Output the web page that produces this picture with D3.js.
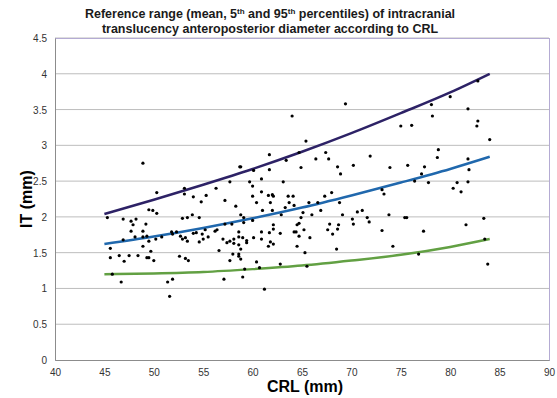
<!DOCTYPE html>
<html>
<head>
<meta charset="utf-8">
<script src="https://cdn.jsdelivr.net/npm/d3@7"></script>
<style>
  body { margin: 0; background: #fff; overflow: hidden; }
  svg { display: block; font-family: Arial, "Liberation Sans", sans-serif; }
</style>
</head>
<body>
<div id="chart"></div>
<script>
// Scatter: CRL (mm) and IT (mm) of each measured fetus
const crl = [48.9, 50.3, 53.1, 53.1, 54.0, 55.3, 56.3, 57.2, 54.8, 49.5, 49.9, 50.3, 45.3, 46.9, 47.7, 48.2, 47.9, 49.2, 47.7, 48.9,
  46.9, 48.1, 48.9, 49.3, 49.5, 50.2, 50.8, 48.9, 45.6, 45.6, 46.5, 47.5, 47.0, 48.4, 49.3, 49.5, 49.7, 50.0, 52.9, 53.4,
  53.9, 54.6, 51.8, 52.3, 51.9, 52.7, 52.9, 53.2, 53.4, 54.0, 54.3, 54.9, 55.2, 55.0, 54.6, 55.5, 56.2, 56.4, 57.0, 57.4,
  56.6, 52.6, 53.2, 53.5, 57.7, 45.8, 46.7, 51.4, 51.9, 51.6, 57.1, 69.4, 64.0, 65.4, 61.7, 64.7, 67.4, 71.9, 58.7, 58.8,
  60.1, 61.7, 63.4, 64.9, 66.4, 67.7, 68.6, 68.9, 70.2, 57.7, 59.7, 60.0, 60.9, 63.1, 60.9, 60.0, 61.6, 62.0, 62.1, 63.6,
  64.1, 67.3, 68.0, 61.8, 60.4, 58.3, 63.7, 64.2, 61.0, 62.0, 63.3, 65.7, 66.6, 66.9, 68.8, 62.9, 58.8, 59.1, 57.2, 57.9,
  59.1, 60.0, 65.1, 66.0, 69.1, 70.6, 71.1, 70.1, 71.6, 71.8, 64.9, 62.1, 64.7, 64.5, 67.8, 68.7, 70.2, 58.6, 60.9, 61.7,
  62.1, 62.8, 64.2, 64.4, 65.2, 67.6, 68.6, 68.1, 64.7, 65.8, 57.7, 58.1, 58.1, 58.6, 59.0, 59.4, 59.4, 60.1, 60.9, 61.8,
  61.6, 62.1, 64.5, 58.6, 58.8, 58.0, 58.6, 58.6, 58.8, 60.4, 60.7, 62.8, 65.3, 65.5, 68.5, 59.2, 59.0, 61.2, 82.8, 80.0,
  78.1, 78.2, 81.8, 82.8, 82.7, 75.0, 76.1, 84.0, 78.8, 78.7, 73.9, 75.7, 77.4, 77.1, 81.8, 81.9, 76.4, 77.8, 73.1, 73.3,
  80.3, 80.7, 81.1, 81.8, 73.8, 75.4, 75.6, 73.1, 77.3, 81.6, 83.4, 74.2, 83.5, 76.8, 83.8];
const it = [2.75, 2.34, 2.40, 2.32, 2.28, 2.30, 2.40, 2.23, 2.21, 2.10, 2.09, 2.05, 1.99, 1.97, 1.94, 1.97, 1.89, 1.90, 1.80, 1.80,
  1.68, 1.72, 1.72, 1.73, 1.66, 1.69, 1.72, 1.59, 1.56, 1.43, 1.46, 1.46, 1.38, 1.46, 1.43, 1.43, 1.52, 1.39, 1.98, 1.99,
  2.03, 1.99, 1.79, 1.79, 1.76, 1.73, 1.69, 1.71, 1.66, 1.77, 1.78, 1.76, 1.82, 1.69, 1.65, 1.72, 1.80, 1.82, 1.69, 1.64,
  1.53, 1.45, 1.42, 1.39, 1.39, 1.20, 1.09, 1.09, 1.13, 0.89, 1.13, 3.58, 3.41, 3.06, 2.87, 2.90, 2.90, 2.85, 2.70, 2.70,
  2.65, 2.66, 2.79, 2.69, 2.81, 2.81, 2.70, 2.60, 2.72, 2.49, 2.49, 2.43, 2.53, 2.49, 2.35, 2.29, 2.30, 2.31, 2.29, 2.29,
  2.29, 2.29, 2.34, 2.20, 2.20, 2.15, 2.20, 2.16, 2.09, 2.09, 2.13, 2.20, 2.20, 2.09, 2.20, 2.03, 2.03, 1.99, 1.90, 1.90,
  1.92, 1.95, 2.06, 2.03, 2.03, 2.07, 2.09, 1.97, 1.99, 1.93, 1.99, 1.89, 1.91, 1.89, 1.90, 1.89, 1.90, 1.79, 1.79, 1.78,
  1.83, 1.77, 1.79, 1.79, 1.82, 1.82, 1.83, 1.76, 1.73, 1.71, 1.66, 1.69, 1.63, 1.72, 1.71, 1.67, 1.64, 1.71, 1.69, 1.65,
  1.59, 1.62, 1.59, 1.61, 1.55, 1.48, 1.48, 1.45, 1.41, 1.37, 1.29, 1.34, 1.50, 1.31, 1.55, 1.27, 1.16, 0.99, 3.90, 3.68,
  3.57, 3.41, 3.51, 3.34, 3.27, 3.27, 3.28, 3.08, 2.94, 2.83, 2.69, 2.72, 2.70, 2.60, 2.81, 2.66, 2.50, 2.48, 2.38, 2.32,
  2.40, 2.48, 2.35, 2.49, 2.03, 1.99, 1.99, 1.81, 1.80, 1.89, 1.98, 1.59, 1.69, 1.48, 1.34];

// Reference curves read at these CRL values
const curveCrl = [45, 50, 55, 60, 65, 70, 75, 80, 84];
const p95 = [2.04, 2.24, 2.45, 2.67, 2.91, 3.17, 3.45, 3.74, 4.0];
const mean = [1.62, 1.725, 1.845, 1.98, 2.13, 2.30, 2.48, 2.67, 2.84];
const p5 = [1.20, 1.21, 1.23, 1.27, 1.32, 1.39, 1.47, 1.58, 1.69];

const xTicks = [40, 45, 50, 55, 60, 65, 70, 75, 80, 85, 90];
const yTicks = [0, 0.5, 1, 1.5, 2, 2.5, 3, 3.5, 4, 4.5];

const width = 557, height = 398;
const margin = { top: 38, right: 8, bottom: 38, left: 55 };
const innerWidth = width - margin.left - margin.right;
const innerHeight = height - margin.top - margin.bottom;

const svg = d3.select("#chart")
  .append("svg")
  .attr("width", width)
  .attr("height", height);

svg.append("rect").attr("width", width).attr("height", height).attr("fill", "#fff");

const x = d3.scaleLinear().domain([40, 90]).range([0, innerWidth]);
const y = d3.scaleLinear().domain([0, 4.5]).range([innerHeight, 0]);

const g = svg.append("g").attr("transform", `translate(${margin.left},${margin.top})`);

// gridlines
g.append("g")
  .selectAll("line")
  .data(yTicks.filter(d => d > 0))
  .join("line")
  .attr("x1", 0).attr("x2", innerWidth)
  .attr("y1", d => y(d)).attr("y2", d => y(d))
  .attr("stroke", "#bdbdbd")
  .attr("stroke-width", 1);

// plot border (top/right lavender)
g.append("rect")
  .attr("x", 0.5).attr("y", 0.5)
  .attr("width", innerWidth).attr("height", innerHeight)
  .attr("fill", "none")
  .attr("stroke", "#b4abd3")
  .attr("stroke-width", 1);

// axes
const xAxis = d3.axisBottom(x).tickValues(xTicks).tickSize(0).tickPadding(9);
const yAxis = d3.axisLeft(y).tickValues(yTicks).tickSize(0).tickPadding(8).tickFormat(d3.format("~g"));

g.append("g")
  .attr("class", "x-axis")
  .attr("transform", `translate(0,${innerHeight})`)
  .call(xAxis)
  .attr("font-family", "Arial, 'Liberation Sans', sans-serif")
  .call(s => s.select(".domain").attr("stroke", "#8c8c8c"))
  .selectAll(".tick text")
  .attr("dy", null)
  .attr("y", 16)
  .style("font-size", "10px")
  .style("fill", "#333");

g.append("g")
  .attr("class", "y-axis")
  .call(yAxis)
  .attr("font-family", "Arial, 'Liberation Sans', sans-serif")
  .call(s => s.select(".domain").attr("stroke", "#8c8c8c"))
  .selectAll(".tick text")
  .attr("dy", null)
  .attr("y", 3.5)
  .style("font-size", "10px")
  .style("fill", "#333");

// reference curves
const line = d3.line()
  .x((d, i) => x(curveCrl[i]))
  .y(d => y(d))
  .curve(d3.curveMonotoneX);

[[p95, "#2d2266"], [mean, "#2068ad"], [p5, "#62a043"]].forEach(([vals, col]) => {
  g.append("path")
    .datum(vals)
    .attr("fill", "none")
    .attr("stroke", col)
    .attr("stroke-width", 2.5)
    .attr("d", line);
});

// points
g.append("g")
  .selectAll("circle")
  .data(crl)
  .join("circle")
  .attr("cx", d => x(d))
  .attr("cy", (d, i) => y(it[i]))
  .attr("r", 1.6)
  .attr("fill", "#000");

// title
const title = svg.append("text")
  .attr("text-anchor", "middle")
  .style("font-size", "12.5px")
  .style("font-weight", "bold")
  .style("fill", "#1a1a1a");
const t1 = title.append("tspan").attr("x", 270).attr("y", 18);
t1.append("tspan").text("Reference range (mean, 5");
t1.append("tspan").attr("baseline-shift", "4").style("font-size", "8px").text("th");
t1.append("tspan").text(" and 95");
t1.append("tspan").attr("baseline-shift", "4").style("font-size", "8px").text("th");
t1.append("tspan").text(" percentiles)  of intracranial");
title.append("tspan").attr("x", 270).attr("y", 33)
  .text("translucency anteroposterior diameter according to CRL");

// axis labels
svg.append("text")
  .attr("x", margin.left + innerWidth / 2 + 3)
  .attr("y", 392)
  .attr("text-anchor", "middle")
  .style("font-size", "16px")
  .style("font-weight", "bold")
  .text("CRL (mm)");

svg.append("text")
  .attr("transform", "rotate(-90)")
  .attr("x", -(margin.top + innerHeight / 2))
  .attr("y", 32)
  .attr("text-anchor", "middle")
  .style("font-size", "16px")
  .style("font-weight", "bold")
  .text("IT (mm)");
</script>
</body>
</html>
